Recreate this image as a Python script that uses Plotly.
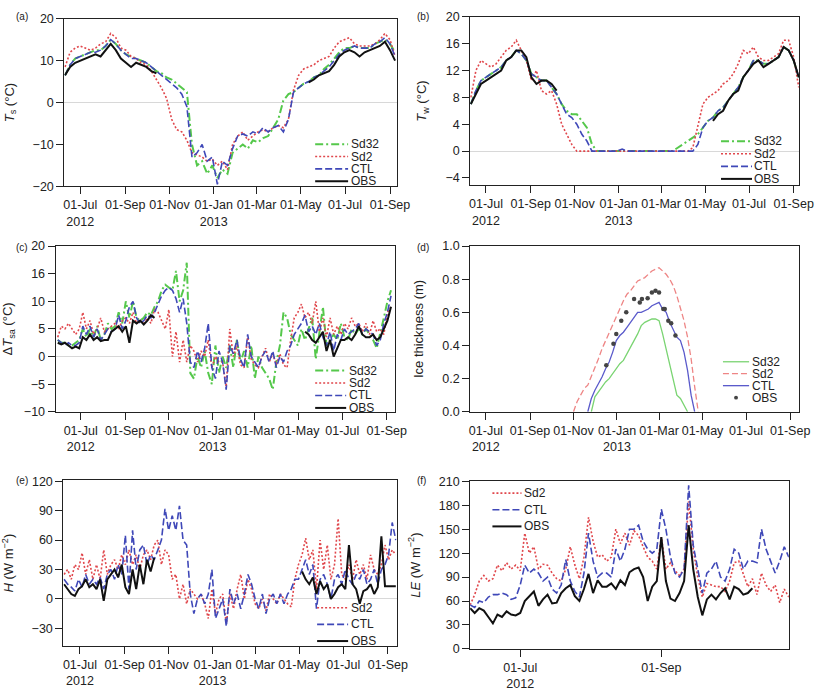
import pandas as pd
import plotly.graph_objects as go

# -------------------------------
# time axes
weeks = pd.date_range('2012-06-10', periods=66, freq='7D')      # panels a, b
days_c = pd.date_range('2012-05-30', periods=94, freq='5D')     # panel c
days_e = pd.date_range('2012-06-09', periods=93, freq='5D')     # panel e
days_ice = pd.date_range('2012-11-01', periods=36, freq='5D')   # panel d
days_f = pd.date_range('2012-06-09', periods=71, freq='2D')     # panel f

# (a) surface temperature Ts
ts_sd32 = [6.5, 9, 10.5, 11, 11.5, 12, 12.5, 12.5, 13.5, 15,
           14, 12.5, 11.5, 11, 10.5, 10, 9.5, 8.5, 7.5, 7,
           6, 5.5, 4.5, 3.5, 2.5, -10, -15, -14, -17, -15,
           -18, -16, -17, -12, -11, -10, -11, -9, -9.5, -8.5,
           -8, -6, -4, 0.5, 2, 2.5, 3.5, 4.5, 5, 6,
           6.5, 8, 9, 10.5, 12, 13, 13, 13.5, 13, 13,
           13, 14, 14.5, 15, 14, 12]
ts_sd2 = [8.5, 12, 13, 13.5, 13, 12.5, 13, 14, 14.5, 16.5,
          15.5, 13, 12.5, 11, 10.5, 9.5, 9, 7.5, 5.5, 3.5,
          1, -4, -6.5, -7, -9, -12, -12.5, -13, -14, -13.5,
          -15, -14, -16, -10, -8, -7, -9, -8, -7, -6.5,
          -7, -6, -5.5, -6, -4, 3, 6.5, 8, 8.5, 9,
          10, 10.5, 11, 13, 14.5, 15, 15.5, 14, 13.5, 13.5,
          13.5, 14, 15, 16.5, 15, 11]
ts_ctl = [6.5, 9, 10.5, 11, 11.5, 12, 12, 12.5, 13.5, 15,
          14, 12.5, 11.5, 10.5, 10.5, 10, 9.5, 8.5, 7.5, 6.5,
          5.5, 4.5, 3.5, 2, -1, -13, -12, -10, -14, -13,
          -19.5, -14, -15, -11, -8, -7.5, -8, -7, -7.5, -6,
          -7, -6, -5.5, -7, -4, 2.5, 3.5, 4.5, 5, 6,
          6.5, 7.5, 8.5, 10, 11.5, 12.5, 13, 13.5, 13, 13,
          13, 14, 14.5, 15.5, 14, 11]
ts_obs = ([6.5, 8.5, 9.5, 10, 10.5, 11, 11.5, 11, 12.5, 14,
           12.5, 10.5, 9.5, 8.5, 9.5, 9, 8.5, 7.5, 7]
          + [None] * 29
          + [4.8, 5.5, 6.5, 7, 7.5, 9, 11, 12, 12.5, 12,
             11, 12, 12.5, 13, 13.5, 14.5, 12.5, 10])

# (b) water temperature Tw
tw_sd32 = [7, 9, 10.5, 11, 11.5, 12, 12.5, 13.5, 14, 15,
           14.5, 13.5, 11.5, 11, 10.5, 10.5, 9.5, 8.5, 7, 6,
           5.5, 5.5, 4.5, 3.5, 1, 0, 0, 0, 0, 0,
           0, 0, 0, 0, 0, 0, 0, 0, 0, 0,
           0, 0.5, 1, 1.5, 2, 2.5, 3.5, 4.5, 5, 6,
           6.5, 7.5, 8.5, 9.5, 11, 12, 13.5, 13.5, 13, 13,
           13.5, 14, 15.5, 15, 13.5, 11]
tw_sd2 = [8, 12, 13.5, 13, 12.5, 13, 14, 15, 15.5, 16.5,
          15, 13.5, 10.5, 12, 9, 8.5, 9, 7, 4, 2.5,
          1, 0, 0, 0, 0, 0, 0, 0, 0, 0,
          0, 0, 0, 0, 0, 0, 0, 0, 0, 0,
          0, 0, 0, 0, 0.5, 4, 7, 8, 8.5, 9,
          10, 10.5, 11.5, 13, 15, 14.5, 15.5, 14, 13.5, 13.5,
          14, 14.5, 16.5, 16.5, 14, 9.5]
tw_ctl = [7, 9, 10.5, 11, 11.5, 12, 12.5, 13.5, 14, 15,
          14.5, 13.5, 11.5, 11, 10.5, 10.5, 9.5, 8.5, 7, 5.5,
          5, 4, 2.5, 1.5, 0, 0, 0, 0, 0, 0,
          0.3, 0, 0, 0, 0, 0, 0, 0, 0, 0,
          0, 0, 0, 0, 0, 1, 3.5, 4.5, 5, 6,
          6.5, 7.5, 8.5, 9.5, 11, 12, 13.5, 13.5, 13, 13,
          13.5, 14, 15.5, 15, 13.5, 11]
tw_obs = ([7, 8.5, 10, 10.5, 11, 11.5, 12, 13.5, 14, 15,
           15, 14, 11, 10, 10.5, 10.5, 10, 9]
          + [None] * 30
          + [4.5, 5.5, 6, 7.5, 8.5, 9, 11, 12, 13, 13.5,
             12.5, 13, 13.5, 14, 15.5, 15, 13.5, 11])

# (c) surface-air temperature difference
dt_sd32 = [3, 2.5, 2.5, 2, 2, 2.5, 3, 5, 3.5, 5,
           3.5, 5.5, 3, 4, 6, 5, 5.5, 8, 6, 10,
           7, 10, 7, 6.5, 7, 8, 7.5, 9, 10, 12,
           13, 12.5, 12, 15.5, 10, 12, 17, -3, -4, 0,
           -2, 1, -3, -5, 2, -3, 0, -2, 2, -2,
           3, -1, 1, -2, 2, -4, 0, -2, -3, -4,
           -6, -1, 2, 8, 7, 4, 3, 2, 5, 3,
           5, 7, -0.5, 4, 9, 2, 3, 4, 3, 6,
           3.5, 3, 5, 4, 5, 4, 5, 4, 3, 1.5,
           4, 7, 10, 12]
dt_sd2 = [3.5, 5.5, 5, 6, 5, 4, 5, 8, 5, 6.5,
          4, 5, 7, 4.5, 5, 5.5, 6, 5, 6.5, 7,
          6, 8, 6, 6.5, 6, 7, 6, 8.5, 8, 6.5,
          5, 8.5, 0, 4.5, -1, 3, -1, 2, 1, -1,
          1, 0, 3, -2, 0, -1, -1, -5.5, 5, 0,
          2, -1.5, -2, 3.5, -0.5, -1.5, -2, 0, 1.5, -1,
          0.5, -1.5, 0.5, -1.5, -2, 3, 7, 8, 9.5, 7,
          8, 6, 10, 4.5, 7, 3.5, 7, 4, 5.5, 4,
          6, 5, 7, 5.5, 6, 4.5, 6, 4, 6.5, 4.5,
          5, 4, 8, 9]
dt_ctl = [3, 2.5, 2, 2.5, 2, 2, 2.5, 5.5, 4, 5.5,
          3.5, 5, 3, 4, 5, 4.5, 5, 7.5, 5, 6.5,
          9, 10, 7, 6, 6.5, 7.5, 7, 8, 9.5, 11,
          12, 12.5, 12, 10.5, 8, 10.5, 6, -1, -2, 1,
          -1, 1.5, 6, -2, -4, 1, -1, -6, 2, 0.5,
          3, -0.5, -2, 4, 0, -1, -2, 0, 1, -1,
          1, -2, 0, -1, 1, 2, 4, 5, 6, 7.5,
          4.5, 5.5, 4, 6, 3.5, 2, 4.5, 1, 4, 3,
          5, 4, 4.5, 5, 6, 4, 5, 4.5, 4, 2,
          3, 6, 8, 11]
dt_obs = ([2.5, 2.2, 2.5, 2, 1.5, 1.8, 1.5, 3.5, 3, 4,
           3, 3.5, 2.8, 3, 3, 4.5, 5, 5.5, 4.5, 5.5,
           2.5, 6.5, 6, 6.5, 5.8, 6.5, 7.5, 7]
          + [None] * 41
          + [4.5, 4, 3, 2.5, 3.5, 4.5, 1, 3, 0, 1.5,
             3, 3, 3.5, 3, 4, 5.5, 4, 3.5, 3.5, 4,
             3, 3.5, 5, 6.5, 9])

# (d) ice thickness
ice_sd32 = ([None] * 5
            + [0.0, 0.09, 0.12, 0.15, 0.18, 0.20, 0.23, 0.26, 0.29, 0.31,
               0.35, 0.39, 0.43, 0.47, 0.52, 0.54, 0.55, 0.56, 0.56, 0.55,
               0.47, 0.38, 0.29, 0.20, 0.10, 0.08, 0.04, 0.0]
            + [None] * 3)
ice_sd2 = [0.0, 0.06, 0.10, 0.14, 0.16, 0.21, 0.27, 0.32, 0.38, 0.43,
           0.48, 0.53, 0.58, 0.63, 0.67, 0.71, 0.73, 0.76, 0.79, 0.80,
           0.81, 0.83, 0.85, 0.86, 0.87, 0.85, 0.83, 0.80, 0.76, 0.70,
           0.63, 0.55, 0.45, 0.32, 0.15, 0.0]
ice_ctl = ([None] * 4
           + [0.0, 0.08, 0.13, 0.17, 0.21, 0.26, 0.30, 0.36, 0.43, 0.46,
              0.48, 0.51, 0.54, 0.57, 0.60, 0.60, 0.61, 0.62, 0.64, 0.65,
              0.66, 0.62, 0.60, 0.54, 0.49, 0.45, 0.43, 0.36, 0.25, 0.10,
              0.0]
           + [None])
ice_obs_dates = ['2012-12-17', '2012-12-27', '2012-12-31', '2013-01-07', '2013-01-14',
                 '2013-01-25', '2013-02-02', '2013-02-05', '2013-02-13', '2013-02-19',
                 '2013-02-24', '2013-03-01', '2013-03-07', '2013-03-09', '2013-03-14',
                 '2013-03-18', '2013-03-24']
ice_obs = [0.28, 0.41, 0.47, 0.55, 0.60, 0.68, 0.66, 0.68, 0.685, 0.72,
           0.73, 0.72, 0.62, 0.62, 0.55, 0.535, 0.46]

# (e) sensible heat flux H
h_sd2 = [25, 30, 20, 35, 30, 47, 25, 40, 20, 35,
         20, 50, 25, 35, 40, 30, 45, 35, 50, 35,
         45, 30, 45, 50, 40, 55, 60, 35, 50, 45,
         20, 25, 0, 15, -5, 10, 5, 0, 5, -5,
         -20, 10, -15, 0, 5, -25, 5, -10, 10, 25,
         0, 20, 10, -5, -10, 0, -12, 5, 0, -5,
         5, 0, -5, -8, 20, 35, 45, 62, 40, 50,
         10, 60, 30, 55, 20, 35, 82, 25, 20, 35,
         20, 40, 25, 35, 20, 45, 30, 25, 35, 55,
         40, 50, 45]
h_ctl = [20, 15, 12, 8, 20, 12, 25, 15, 20, 15,
         22, 10, 25, 30, 20, 35, 25, 65, 10, 70,
         30, 50, 55, 35, 45, 40, 50, 60, 92, 70,
         85, 70, 95, 60, 55, 5, -15, 0, 5, -5,
         5, 30, -20, -10, 0, -28, 10, -5, 5, -10,
         5, 25, 15, 0, -10, 5, -15, 0, 5, -5,
         5, -5, 5, 10, 20, 20, 30, 40, 25, 35,
         -10, 20, 25, 15, 0, 20, 25, 15, 30, 20,
         15, 25, 20, 30, 15, 20, 30, 15, 30, 35,
         45, 78, 60]
h_obs = ([15, 10, 5, 3, 10, 13, 20, 12, 15, 10,
          20, -2, 20, 25, 30, 22, 35, 12, 5, 30,
          10, 35, 15, 40, 28, 42]
         + [None] * 40
         + [28, 20, 15, 22, 5, 18, 10, 15, 0, 5,
            12, 15, 10, 55, 15, 10, -5, 8, 10, 15,
            5, 12, 64, 13, 13, 13, 13])

# (f) latent heat flux LE
le_sd2 = [55, 68, 85, 92, 85, 88, 105, 98, 108, 100,
          105, 98, 145, 120, 128, 100, 106, 105, 95, 88,
          85, 100, 128, 105, 88, 115, 165, 135, 115, 118,
          110, 115, 150, 132, 145, 130, 148, 142, 128, 115,
          110, 100, 140, 100, 108, 98, 92, 100, 185, 125,
          90, 65, 82, 80, 78, 78, 72, 85, 108, 110,
          95, 78, 88, 68, 95, 80, 72, 80, 58, 75,
          65]
le_ctl = [55, 52, 60, 58, 65, 68, 68, 70, 68, 62,
          64, 80, 105, 95, 100, 95, 85, 90, 75, 70,
          80, 112, 85, 72, 65, 95, 145, 110, 90, 95,
          95, 90, 125, 110, 125, 150, 150, 155, 135, 125,
          120, 125, 175, 150, 115, 95, 90, 100, 205, 130,
          100, 70, 95, 100, 110, 90, 85, 100, 125, 120,
          100, 110, 110, 108, 150, 125, 110, 95, 110, 128,
          115]
le_obs = ([51, 45, 51, 48, 40, 32, 43, 40, 47, 43,
           42, 45, 60, 66, 72, 54, 62, 68, 57, 58,
           70, 76, 80, 66, 60, 75, 94, 70, 86, 78,
           78, 82, 75, 86, 80, 96, 100, 102, 90, 60,
           78, 85, 140, 85, 63, 60, 70, 85, 155, 100,
           65, 42, 62, 68, 62, 70, 76, 62, 78, 75,
           68, 70, 76]
          + [None] * 8)

date_ticks = ['2012-07-01', '2012-09-01', '2012-11-01', '2013-01-01',
              '2013-03-01', '2013-05-01', '2013-07-01', '2013-09-01']
date_text = ['01-Jul<br>2012', '01-Sep', '01-Nov', '01-Jan<br>2013',
             '01-Mar', '01-May', '01-Jul', '01-Sep']

# -------------------------------
# styles
STYLE = {
    'Sd32': dict(color='#55c84b', dash='8px,3px,2px,3px', width=2),
    'Sd2': dict(color='#e0474c', dash='2px,2px', width=1.6),
    'CTL': dict(color='#3f48b8', dash='7px,3px', width=1.6),
    'OBS': dict(color='#111111', dash='solid', width=2),
}
STYLE_ICE = {
    'Sd32': dict(color='#7ad472', dash='solid', width=1.3),
    'Sd2': dict(color='#ee8585', dash='6px,3px', width=1.3),
    'CTL': dict(color='#5a5acb', dash='solid', width=1.3),
}

W, H = 828, 700


def fx(px):
    return px / W


def fy(px):
    return 1 - px / H


panels = [
    dict(tag='(a)', tag_xy=(2, 2), box=(54, 397, 12, 183),
         xr=['2012-06-09', '2013-09-10'], yr=[-20, 20], yt=[-20, -10, 0, 10, 20],
         title='<i>T</i><sub>s</sub> (°C)', zero=True,
         series=[('Sd32', weeks, ts_sd32), ('Sd2', weeks, ts_sd2),
                 ('CTL', weeks, ts_ctl), ('OBS', weeks, ts_obs)],
         legend=(313, 347, 140, 12.6)),
    dict(tag='(b)', tag_xy=(416, 2), box=(473, 813, 10, 182),
         xr=['2012-06-09', '2013-09-09'], yr=[-5.1, 20], yt=[-4, 0, 4, 8, 12, 16, 20],
         title='<i>T</i><sub>w</sub> (°C)', zero=True,
         series=[('Sd32', weeks, tw_sd32), ('Sd2', weeks, tw_sd2),
                 ('CTL', weeks, tw_ctl), ('OBS', weeks, tw_obs)],
         legend=(732, 764, 137, 12.8)),
    dict(tag='(c)', tag_xy=(2, 238), box=(45, 395, 244, 413),
         xr=['2012-05-27', '2013-09-12'], yr=[-10, 20], yt=[-10, -5, 0, 5, 10, 15, 20],
         ytext=['−10', '−5', '0', '5', '10', '16', '20'],
         title='Δ<i>T</i><sub>sa</sub> (°C)', zero=True,
         series=[('Sd32', days_c, dt_sd32), ('Sd2', days_c, dt_sd2),
                 ('CTL', days_c, dt_ctl), ('OBS', days_c, dt_obs)],
         legend=(313, 345, 371, 12.7)),
    dict(tag='(d)', tag_xy=(416, 238), box=(473, 813, 244, 413),
         xr=['2012-06-09', '2013-09-14'], yr=[0, 1], yt=[0, 0.2, 0.4, 0.6, 0.8, 1.0],
         title='Ice thickness (m)', zero=False, ice=True,
         series=[('Sd32', days_ice, ice_sd32), ('Sd2', days_ice, ice_sd2),
                 ('CTL', days_ice, ice_ctl), ('OBS', ice_obs_dates, ice_obs)],
         legend=(734, 761, 362, 12.2)),
    dict(tag='(e)', tag_xy=(2, 476), box=(53, 397, 483, 652),
         xr=['2012-06-08', '2013-09-13'], yr=[-48, 121], yt=[-30, 0, 30, 60, 90, 120],
         title='<i>H</i> (W m<sup>−2</sup>)', zero=True,
         series=[('Sd2', days_e, h_sd2), ('CTL', days_e, h_ctl), ('OBS', days_e, h_obs)],
         legend=(315, 347, 613, 17)),
    dict(tag='(f)', tag_xy=(416, 476), box=(473, 802, 484, 655),
         xr=['2012-06-09', '2012-10-27'], yr=[0, 210], yt=[0, 30, 60, 90, 120, 150, 180, 210],
         title='<i>LE</i> (W m<sup>−2</sup>)', zero=False,
         xt=(['2012-07-01', '2012-09-01'], ['01-Jul<br>2012', '01-Sep']),
         series=[('Sd2', days_f, le_sd2), ('CTL', days_f, le_ctl), ('OBS', days_f, le_obs)],
         legend=(496, 526, 496, 17)),
]

axis_common = dict(showline=True, linecolor='#222', linewidth=1, mirror=True,
                   ticks='outside', ticklen=7, tickcolor='#222', tickwidth=1,
                   showgrid=False, tickangle=0, tickfont=dict(size=12.5, color='#222'))

fig = go.Figure()
for n, p in enumerate(panels, start=1):
    sfx = '' if n == 1 else str(n)
    xa, ya = 'x' + sfx, 'y' + sfx
    ice = p.get('ice', False)

    for name, x, y in p['series']:
        if ice and name == 'OBS':
            fig.add_trace(go.Scatter(x=x, y=y, mode='markers', name=name,
                                     marker=dict(color='#444', size=4.5, symbol='circle'),
                                     xaxis=xa, yaxis=ya, showlegend=False))
            continue
        st = (STYLE_ICE if ice else STYLE)[name]
        fig.add_trace(go.Scatter(x=x, y=y, mode='lines', name=name,
                                 line=dict(color=st['color'], dash=st['dash'], width=st['width']),
                                 xaxis=xa, yaxis=ya, showlegend=False))

    x0, x1, y0, y1 = p['box']
    tv, tt = p.get('xt', (date_ticks, date_text))
    yaxis = dict(domain=[fy(y1), fy(y0)], anchor=xa, range=p['yr'], tickvals=p['yt'],
                 title=dict(text=p['title'], font=dict(size=13, color='#222')),
                 zeroline=p['zero'], zerolinecolor='#d8d8d8', zerolinewidth=1,
                 **axis_common)
    if 'ytext' in p:
        yaxis['ticktext'] = p['ytext']
    if ice:
        yaxis['tickformat'] = '.1f'
    fig.update_layout(**{
        'xaxis' + sfx: dict(domain=[fx(x0), fx(x1)], anchor=ya, range=p['xr'], type='date',
                            tickvals=tv, ticktext=tt, zeroline=False, **axis_common),
        'yaxis' + sfx: yaxis,
    })

    # panel tag
    tx, ty = p['tag_xy']
    fig.add_annotation(text=p['tag'], x=fx(tx), y=fy(ty), xref='paper', yref='paper',
                       xanchor='left', yanchor='top', showarrow=False,
                       font=dict(size=10, color='#222'))

    # legend key drawn inside the panel
    lx0, lx1, ly, gap = p['legend']
    for r, (name, _, _) in enumerate(p['series']):
        yy = ly + r * gap
        if ice and name == 'OBS':
            cx = (lx0 + lx1) / 2
            fig.add_shape(type='circle', xref='paper', yref='paper',
                          x0=fx(cx - 2), x1=fx(cx + 2), y0=fy(yy + 2), y1=fy(yy - 2),
                          fillcolor='#444', line=dict(color='#444', width=0))
        else:
            st = (STYLE_ICE if ice else STYLE)[name]
            fig.add_shape(type='line', xref='paper', yref='paper',
                          x0=fx(lx0), x1=fx(lx1), y0=fy(yy), y1=fy(yy),
                          line=dict(color=st['color'], dash=st['dash'], width=st['width']))
        fig.add_annotation(text=name, x=fx(lx1 + 0.5), y=fy(yy), xref='paper', yref='paper',
                           xanchor='left', yanchor='middle', showarrow=False,
                           font=dict(size=12, color='#222'))

fig.update_layout(width=W, height=H, margin=dict(l=0, r=0, t=0, b=0),
                  paper_bgcolor='white', plot_bgcolor='white',
                  font=dict(family='Liberation Sans, Arial, sans-serif', color='#222'),
                  showlegend=False)

# the page's default body margin would push the 828x700 figure off the window
fig.write_html('out.html', config={'displayModeBar': False},
               post_script="document.body.style.margin = '0px';")
